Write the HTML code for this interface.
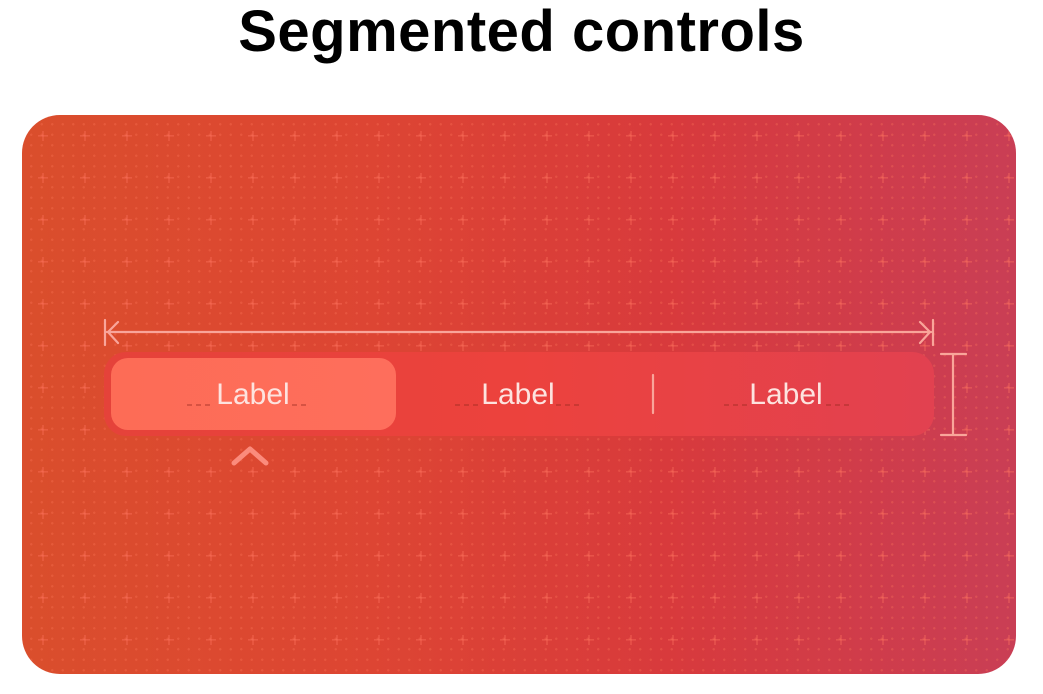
<!DOCTYPE html>
<html><head><style>
html,body{margin:0;padding:0;background:#fff;width:1043px;height:694px;overflow:hidden;font-family:"Liberation Sans",sans-serif}
h1{position:absolute;left:0;width:1043px;top:-2px;margin:0;text-align:center;font-size:58px;font-weight:bold;letter-spacing:0.5px;color:#000}
.card{position:absolute;left:22px;top:115px;width:994px;height:559px;border-radius:38px;overflow:hidden;
background:linear-gradient(90deg,#da4e2c 0%,#dd4533 35%,#d83a3c 65%,#c93e55 100%)}
.dots{position:absolute;inset:0;background-image:radial-gradient(circle,rgba(255,120,90,0.3) 1px,transparent 1.4px);background-size:10.5px 10.5px;background-position:4px 4px}
.seg{position:absolute;left:104px;top:352px;width:830px;height:84px;border-radius:22px;background:linear-gradient(90deg,#e5423a,#ec423d 50%,#e24150)}
.sel{position:absolute;left:111px;top:358px;width:285px;height:72px;border-radius:17px;background:linear-gradient(90deg,#fd6c56,#fe6e5c)}
.lbl{position:absolute;top:378px;font-size:30px;color:#fde3df;width:200px;text-align:center}
</style></head><body>
<h1>Segmented controls</h1>
<div class="card"><div class="dots"></div>
<svg width="994" height="559" style="position:absolute;left:0;top:0">
<defs>
<pattern id="q" x="0" y="0" width="42" height="42" patternUnits="userSpaceOnUse">
<rect x="16" y="20" width="10" height="1.6" fill="rgba(255,115,95,0.4)"/>
<rect x="20.2" y="16" width="1.6" height="10" fill="rgba(255,115,95,0.4)"/></pattern></defs>
<rect width="994" height="559" fill="url(#q)"/>
</svg>
</div>
<div class="seg"></div>
<div class="sel"></div>
<div class="lbl" style="left:153px">Label</div>
<div class="lbl" style="left:418px">Label</div>
<div class="lbl" style="left:686px">Label</div>
<svg width="1043" height="694" style="position:absolute;left:0;top:0">
<g stroke="#f9a59a" stroke-width="2.2" fill="none" stroke-linecap="round">
<path d="M105 320 V345 M107 332 H931 M118 322 L108 332 L118 343 M933 320 V345 M920 322 L930 332 L920 343"/>
<path d="M953 354 V435 M941 354 H966 M941 435 H966"/>
<path d="M653 375 V413"/>
</g>
<path d="M234 463 L250 449 L266 463" stroke="#fb8b7c" stroke-width="5" fill="none" stroke-linecap="round" stroke-linejoin="round"/>
<g stroke="rgba(150,40,30,0.5)" stroke-width="1.5" stroke-dasharray="5 4">
<path d="M187 405 H212 M292 405 H310"/>
<path d="M455 405 H478 M556 405 H582"/>
<path d="M724 405 H748 M826 405 H850"/>
</g>
</svg>
</body></html>
